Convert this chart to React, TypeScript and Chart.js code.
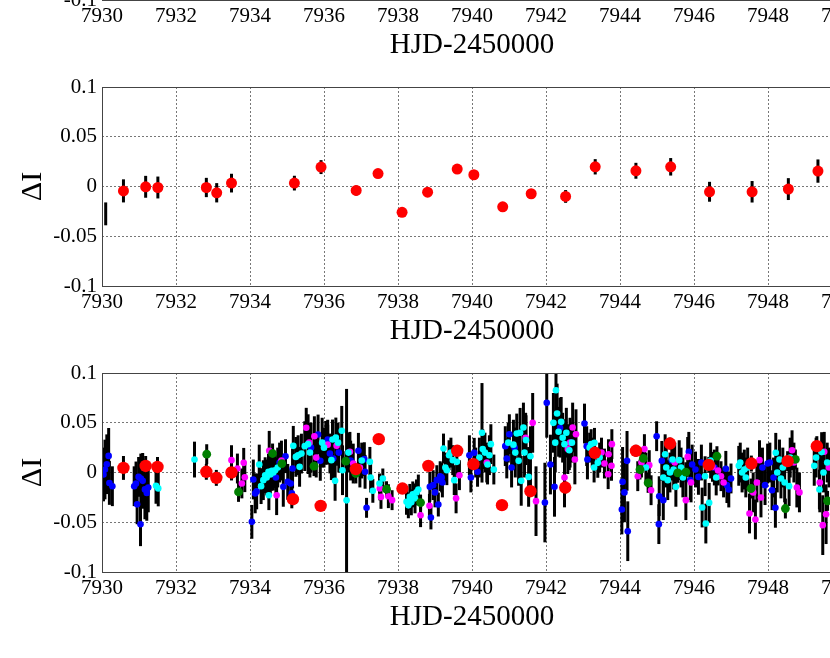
import React, { useEffect, useRef } from 'react';
import { Chart, registerables } from 'chart.js';

Chart.register(...registerables);

// ---- axes ----
const X_MIN = 7930;
const X_MAX = 7950;
const X_STEP = 2;
const Y_MIN = -0.1;
const Y_MAX = 0.1;
const Y_STEP = 0.05;
const X_TITLE = 'HJD-2450000';
const Y_TITLE = 'ΔI';

// each entry: [HJD-2450000, ΔI, error]
type Obs = [number, number, number];

// ---- middle panel ----
const middleRed: Obs[] = [
  [7930.58, -0.0044, 0.0116], [7931.18, -0.0003, 0.011], [7931.51, -0.001, 0.011],
  [7932.82, -0.001, 0.0097], [7933.10, -0.0063, 0.0097], [7933.50, 0.0034, 0.0094],
  [7935.20, 0.0034, 0.0074], [7935.92, 0.0195, 0.007], [7936.87, -0.004, 0.005],
  [7937.46, 0.013, 0.004], [7938.11, -0.026, 0.003], [7938.80, -0.0057, 0.003],
  [7939.60, 0.0175, 0.003], [7940.05, 0.0118, 0.003], [7940.83, -0.0204, 0.003],
  [7941.60, -0.0073, 0.004], [7942.53, -0.010, 0.0064], [7943.33, 0.0198, 0.0077],
  [7944.43, 0.0158, 0.008], [7945.37, 0.0198, 0.0088], [7946.42, -0.0053, 0.010],
  [7947.57, -0.0053, 0.0108], [7948.55, -0.0026, 0.011], [7949.35, 0.0155, 0.0117],
];
const middleBarOnly: Obs[] = [[7930.10, -0.0275, 0.0115]];

// ---- bottom panel ----
const bottomBlue: Obs[] = [
  [7930.04, -0.002, 0.027], [7930.08, 0.003, 0.03], [7930.13, 0.0083, 0.03], [7930.18, 0.0167, 0.028],
  [7930.20, -0.0105, 0.022], [7930.28, -0.0138, 0.02], [7930.87, -0.0138, 0.02], [7930.92, -0.011, 0.022],
  [7930.95, -0.032, 0.02], [7930.99, -0.0044, 0.02], [7931.04, -0.052, 0.022], [7931.05, -0.006, 0.025],
  [7931.10, -0.0084, 0.028], [7931.16, -0.017, 0.03], [7931.21, -0.0205, 0.028], [7931.25, -0.015, 0.025],
  [7934.05, -0.0496, 0.017], [7934.09, -0.007, 0.02], [7934.14, -0.021, 0.02], [7934.18, -0.019, 0.018],
  [7934.70, -0.005, 0.02], [7934.80, 0.01, 0.02],
  [7934.90, -0.0144, 0.02], [7934.96, 0.0164, 0.017], [7935.02, -0.0094, 0.018], [7935.10, -0.011, 0.015],
  [7935.15, 0.004, 0.02], [7935.13, -0.021, 0.015], [7935.65, 0.025, 0.025], [7935.84, 0.0382, 0.02],
  [7935.90, 0.0117, 0.02], [7936.05, 0.0298, 0.022], [7936.10, 0.033, 0.02], [7936.16, 0.0191, 0.02],
  [7936.25, 0.014, 0.02], [7936.40, 0.02, 0.02], [7936.72, 0.012, 0.02], [7936.93, 0.0218, 0.018],
  [7937.09, 0.0134, 0.017], [7937.11, 0.0007, 0.017], [7937.15, -0.0355, 0.01], [7938.86, -0.0144, 0.015],
  [7938.89, -0.0452, 0.012], [7938.95, -0.0127, 0.015], [7939.00, -0.02, 0.015], [7939.05, -0.0077, 0.015],
  [7939.09, -0.0322, 0.012], [7939.14, -0.0037, 0.015], [7939.18, -0.005, 0.015], [7939.20, -0.01, 0.015],
  [7939.93, 0.0174, 0.02], [7939.97, -0.005, 0.015], [7940.06, 0.0198, 0.015], [7940.10, 0.01, 0.015],
  [7940.15, 0.0007, 0.015], [7940.90, 0.0265, 0.02], [7940.94, 0.0141, 0.02], [7941.01, 0.0385, 0.02],
  [7941.07, 0.005, 0.02], [7941.15, 0.025, 0.02], [7941.97, -0.0302, 0.04], [7942.02, 0.07, 0.035],
  [7942.12, 0.008, 0.03], [7942.23, -0.0144, 0.03], [7942.38, 0.045, 0.03], [7943.04, 0.0492, 0.02],
  [7943.10, 0.0265, 0.02], [7943.12, 0.0131, 0.02], [7943.25, 0.02, 0.015], [7944.05, -0.0372, 0.025],
  [7944.07, -0.0094, 0.035], [7944.12, -0.02, 0.03], [7944.19, 0.0117, 0.03], [7944.21, -0.059, 0.03],
  [7944.99, 0.0365, 0.015], [7945.05, -0.0519, 0.02], [7945.06, -0.0238, 0.02], [7945.13, 0.0117, 0.02],
  [7945.17, -0.0278, 0.02], [7945.40, 0.012, 0.02], [7945.86, 0.0208, 0.02], [7945.90, -0.0077, 0.02],
  [7945.95, 0.008, 0.02], [7946.04, 0.003, 0.018], [7946.12, -0.0044, 0.018], [7946.20, 0.01, 0.018],
  [7946.55, 0.005, 0.018], [7946.86, 0.0037, 0.018], [7946.89, -0.0127, 0.018], [7946.94, -0.0171, 0.018],
  [7947.00, -0.006, 0.015], [7947.85, 0.005, 0.02], [7947.92, -0.0127, 0.02], [7947.99, 0.009, 0.02],
  [7948.05, 0.01, 0.02], [7948.11, -0.0178, 0.02], [7948.15, -0.005, 0.02], [7948.20, -0.0355, 0.02],
];
const bottomCyan: Obs[] = [
  [7931.46, -0.0134, 0.018], [7931.52, -0.016, 0.018], [7932.50, 0.013, 0.018], [7934.25, 0.008, 0.02],
  [7934.30, -0.0137, 0.018], [7934.36, -0.0077, 0.02], [7934.41, -0.0027, 0.018], [7934.45, -0.005, 0.018],
  [7934.50, 0.0007, 0.018], [7934.51, -0.0228, 0.015], [7934.55, -0.002, 0.02], [7934.59, 0.0017, 0.02],
  [7934.63, 0.0, 0.018], [7934.68, 0.0023, 0.018], [7934.75, 0.005, 0.02], [7935.17, 0.0268, 0.02],
  [7935.24, 0.0157, 0.02], [7935.30, 0.0174, 0.02], [7935.34, 0.0057, 0.02], [7935.39, 0.019, 0.02],
  [7935.48, 0.0265, 0.025], [7935.57, 0.0285, 0.03], [7935.62, 0.02, 0.025], [7935.95, 0.03, 0.025],
  [7936.00, 0.025, 0.02], [7936.20, 0.0124, 0.02], [7936.23, 0.0332, 0.02], [7936.30, -0.0084, 0.02],
  [7936.32, 0.0352, 0.02], [7936.38, 0.03, 0.02], [7936.48, 0.0419, 0.025], [7936.50, 0.0023, 0.025],
  [7936.61, -0.028, 0.112], [7936.66, 0.02, 0.02], [7937.02, 0.012, 0.018], [7937.24, 0.0107, 0.015],
  [7937.26, -0.005, 0.015], [7937.32, -0.0184, 0.012], [7937.50, -0.011, 0.01], [7937.59, -0.006, 0.01],
  [7938.23, -0.0295, 0.013], [7938.28, -0.033, 0.013], [7938.32, -0.0245, 0.013], [7938.36, -0.03, 0.013],
  [7938.40, -0.022, 0.013], [7938.46, -0.026, 0.015], [7938.50, -0.02, 0.013], [7938.55, -0.0171, 0.015],
  [7939.23, 0.0241, 0.015], [7939.28, 0.005, 0.015], [7939.32, 0.0023, 0.015], [7939.38, 0.0174, 0.015],
  [7939.43, 0.02, 0.015], [7939.48, 0.0124, 0.015], [7939.52, -0.0077, 0.015], [7939.59, 0.0107, 0.015],
  [7940.20, 0.015, 0.02], [7940.27, 0.0399, 0.05], [7940.29, 0.0235, 0.02], [7940.35, 0.02, 0.02],
  [7940.42, 0.008, 0.02], [7940.47, 0.0174, 0.02], [7940.51, 0.0285, 0.02], [7940.59, 0.003, 0.015],
  [7940.98, 0.03, 0.02], [7941.12, 0.028, 0.025], [7941.17, 0.02, 0.025], [7941.21, 0.0392, 0.02],
  [7941.26, 0.0117, 0.025], [7941.30, 0.0399, 0.025], [7941.33, -0.0084, 0.025], [7941.39, 0.0452, 0.025],
  [7941.42, 0.02, 0.025], [7941.46, 0.0325, 0.025], [7941.53, -0.0044, 0.03], [7941.58, 0.0164, 0.03],
  [7942.20, 0.0499, 0.03], [7942.25, 0.03, 0.03], [7942.27, 0.0827, 0.03], [7942.30, 0.0593, 0.03],
  [7942.34, 0.0409, 0.025], [7942.41, 0.0509, 0.025], [7942.45, 0.035, 0.025], [7942.50, 0.0285, 0.025],
  [7942.55, 0.04, 0.025], [7942.63, 0.0224, 0.02], [7942.70, 0.03, 0.02], [7943.18, 0.025, 0.015],
  [7943.22, 0.0285, 0.015], [7943.30, 0.005, 0.015], [7943.31, 0.0298, 0.015], [7943.40, 0.0097, 0.015],
  [7943.45, 0.015, 0.015], [7944.70, 0.005, 0.015], [7945.17, -0.005, 0.02], [7945.22, 0.0184, 0.02],
  [7945.25, 0.005, 0.02], [7945.29, -0.0077, 0.02], [7945.35, 0.0, 0.02], [7945.42, 0.0131, 0.02],
  [7945.45, 0.003, 0.02], [7945.51, -0.0144, 0.02], [7945.60, 0.0124, 0.02], [7945.65, 0.005, 0.02],
  [7945.70, -0.005, 0.02], [7946.22, -0.0352, 0.02], [7946.30, -0.0037, 0.02], [7946.32, -0.0513, 0.02],
  [7946.41, -0.0305, 0.02], [7946.45, 0.012, 0.018], [7946.60, -0.005, 0.018], [7947.21, 0.0067, 0.02],
  [7947.25, 0.01, 0.02], [7947.30, 0.0, 0.02], [7947.36, 0.003, 0.02], [7947.40, -0.005, 0.02],
  [7947.45, 0.005, 0.02], [7948.21, 0.0198, 0.02], [7948.25, 0.0, 0.02], [7948.31, 0.0131, 0.02],
  [7948.35, -0.006, 0.02], [7948.40, 0.005, 0.02], [7948.45, -0.01, 0.02], [7948.57, -0.0137, 0.02],
  [7948.60, 0.015, 0.02], [7949.25, 0.0067, 0.02], [7949.30, 0.015, 0.02], [7949.39, -0.0171, 0.02],
  [7949.45, 0.0205, 0.02], [7949.50, 0.0, 0.02], [7949.60, 0.01, 0.02],
];
const bottomMagenta: Obs[] = [
  [7933.50, 0.0124, 0.015], [7933.66, 0.004, 0.015], [7933.78, -0.011, 0.015], [7933.83, 0.0097, 0.015],
  [7933.86, -0.0047, 0.015], [7934.52, 0.0218, 0.02], [7934.72, -0.0228, 0.02], [7934.85, 0.012, 0.02],
  [7935.52, 0.045, 0.02], [7935.60, 0.03, 0.02], [7935.74, 0.0365, 0.02], [7935.79, 0.015, 0.02],
  [7936.10, 0.028, 0.02], [7936.34, 0.0268, 0.02], [7936.70, 0.0208, 0.02], [7936.79, 0.009, 0.02],
  [7936.97, 0.005, 0.02], [7937.51, -0.016, 0.012], [7937.54, -0.0245, 0.012], [7937.74, -0.0238, 0.012],
  [7937.84, -0.0278, 0.01], [7938.61, -0.0429, 0.012], [7938.85, -0.0335, 0.012], [7939.57, -0.026, 0.015],
  [7939.66, -0.0027, 0.015], [7940.40, 0.01, 0.02], [7941.45, 0.035, 0.025], [7941.64, 0.0499, 0.03],
  [7941.73, -0.0288, 0.035], [7942.50, -0.005, 0.03], [7942.59, 0.0235, 0.025], [7942.65, 0.03, 0.025],
  [7942.72, 0.0452, 0.025], [7942.78, 0.0131, 0.025], [7942.81, 0.0385, 0.025], [7943.50, 0.02, 0.015],
  [7943.58, 0.009, 0.015], [7943.68, -0.0017, 0.015], [7943.69, 0.0184, 0.015], [7943.77, 0.0067, 0.015],
  [7943.78, 0.0285, 0.015], [7944.48, -0.0037, 0.015], [7944.58, 0.01, 0.015], [7944.66, 0.0235, 0.015],
  [7944.79, 0.0074, 0.015], [7944.84, -0.0178, 0.015], [7945.48, 0.01, 0.02], [7945.78, -0.0278, 0.02],
  [7945.83, 0.0157, 0.02], [7945.92, -0.01, 0.02], [7946.50, 0.0057, 0.015], [7946.65, 0.002, 0.015],
  [7946.73, -0.0037, 0.015], [7946.80, -0.01, 0.015], [7947.50, -0.0412, 0.02], [7947.60, -0.02, 0.02],
  [7947.66, -0.0472, 0.02], [7947.70, -0.01, 0.02], [7947.77, 0.0124, 0.02], [7947.81, -0.0251, 0.02],
  [7948.65, 0.0224, 0.02], [7948.70, 0.01, 0.02], [7948.78, -0.0151, 0.02], [7948.85, -0.02, 0.02],
  [7949.40, -0.01, 0.03], [7949.48, -0.0529, 0.03], [7949.52, 0.0208, 0.02], [7949.57, -0.0419, 0.03],
  [7949.65, 0.005, 0.02],
];
const bottomGreen: Obs[] = [
  [7932.83, 0.0184, 0.01], [7933.69, -0.0195, 0.01], [7934.61, 0.0191, 0.01], [7934.86, 0.009, 0.01],
  [7935.73, 0.0064, 0.01], [7936.59, 0.0114, 0.01], [7936.86, -0.001, 0.01], [7937.69, -0.0168, 0.008],
  [7938.61, -0.0302, 0.008], [7944.54, 0.003, 0.01], [7944.63, 0.0141, 0.01], [7944.76, -0.0104, 0.01],
  [7945.56, -0.0003, 0.01], [7945.78, 0.0003, 0.01], [7946.62, 0.0164, 0.01], [7947.54, -0.0161, 0.01],
  [7948.47, -0.0362, 0.01], [7948.74, 0.0131, 0.01], [7949.61, -0.0285, 0.01],
];
const bottomRed: Obs[] = [
  [7930.58, 0.0046, 0.012], [7931.18, 0.0066, 0.01], [7931.50, 0.0056, 0.01], [7932.82, 0.0007, 0.008],
  [7933.09, -0.0054, 0.008], [7933.50, 0.0, 0.008], [7935.16, -0.0268, 0.006], [7935.91, -0.0335, 0.005],
  [7936.86, 0.0034, 0.005], [7937.48, 0.0335, 0.004], [7938.12, -0.0161, 0.004], [7938.82, 0.0067, 0.004],
  [7939.60, 0.0218, 0.004], [7940.04, 0.0084, 0.004], [7940.81, -0.0328, 0.004], [7941.58, -0.0188, 0.005],
  [7942.52, -0.0151, 0.006], [7943.32, 0.0198, 0.006], [7944.43, 0.0218, 0.006], [7945.35, 0.0291, 0.006],
  [7946.40, 0.0077, 0.008], [7947.55, 0.009, 0.008], [7948.53, 0.0114, 0.01], [7949.32, 0.0265, 0.01],
];

const FONT = '"Liberation Serif", "Times New Roman", serif';

const errorBarPlugin = {
  id: 'errorBars',
  beforeDatasetsDraw(chart: any) {
    const { ctx, chartArea, scales } = chart;
    const xs = scales.x;
    const ys = scales.y;
    ctx.save();
    ctx.beginPath();
    ctx.rect(chartArea.left, chartArea.top, chartArea.right - chartArea.left, chartArea.bottom - chartArea.top);
    ctx.clip();
    ctx.strokeStyle = '#000';
    ctx.lineCap = 'butt';
    chart.data.datasets.forEach((ds: any) => {
      if (!ds.errors) return;
      ctx.lineWidth = ds.errWidth || 2;
      ds.data.forEach((p: any, j: number) => {
        const e = ds.errors[j];
        const px = xs.getPixelForValue(p.x);
        ctx.beginPath();
        ctx.moveTo(px, ys.getPixelForValue(p.y - e));
        ctx.lineTo(px, ys.getPixelForValue(p.y + e));
        ctx.stroke();
      });
    });
    ctx.restore();
  },
  afterDraw(chart: any) {
    const { ctx, chartArea } = chart;
    ctx.save();
    ctx.strokeStyle = '#444';
    ctx.lineWidth = 1;
    ctx.setLineDash([]);
    const l = Math.floor(chartArea.left) + 0.5;
    const t = Math.floor(chartArea.top) + 0.5;
    const r = Math.floor(chartArea.right) + 0.5;
    const b = Math.floor(chartArea.bottom) + 0.5;
    ctx.strokeRect(l, t, r - l, b - t);
    ctx.restore();
  },
};

function makeDataset(label: string, arr: Obs[], color: string, radius: number, order: number, errWidth: number) {
  return {
    label,
    data: arr.map(([x, y]) => ({ x, y })),
    errors: arr.map((o) => o[2]),
    errWidth,
    backgroundColor: color,
    borderWidth: 0,
    pointRadius: radius,
    pointHoverRadius: radius,
    order,
    clip: 0,
  };
}

const W = 900;
const H = 286;

function Panel({ top, datasets }: { top: number; datasets: any[] }) {
  const ref = useRef<HTMLCanvasElement>(null);
  useEffect(() => {
    if (!ref.current) return;
    const chart = new Chart(ref.current, {
      type: 'scatter',
      data: { datasets },
      plugins: [errorBarPlugin],
      options: {
        animation: false,
        responsive: false,
        devicePixelRatio: 1,
        layout: { padding: { left: 0, top: 20, right: W - 842, bottom: 0 } },
        plugins: { legend: { display: false }, tooltip: { enabled: false } },
        scales: {
          x: {
            type: 'linear',
            min: X_MIN,
            max: X_MAX,
            afterFit: (s: any) => { s.height = 67; },
            ticks: {
              stepSize: X_STEP,
              autoSkip: false,
              maxRotation: 0,
              padding: 4,
              color: '#000',
              font: { family: FONT, size: 21 },
              callback: (v: any) => String(Math.round(Number(v))),
            },
            grid: { color: '#777', lineWidth: 1, drawTicks: false },
            border: { display: false, dash: [2, 2] },
            title: {
              display: true,
              text: X_TITLE,
              color: '#000',
              font: { family: FONT, size: 29 },
              padding: { top: 0, bottom: 4 },
            },
          },
          y: {
            type: 'linear',
            min: Y_MIN,
            max: Y_MAX,
            afterFit: (s: any) => { s.width = 102; },
            ticks: {
              stepSize: Y_STEP,
              padding: 5,
              color: '#000',
              font: { family: FONT, size: 21 },
              callback: (v: any) => String(Math.round(Number(v) * 100) / 100),
            },
            grid: { color: '#777', lineWidth: 1, drawTicks: false },
            border: { display: false, dash: [2, 2] },
            title: {
              display: true,
              text: Y_TITLE,
              color: '#000',
              font: { family: FONT, size: 30 },
              padding: { top: 15, bottom: 0 },
            },
          },
        },
      } as any,
    });
    return () => chart.destroy();
  }, []);
  return (
    <canvas
      ref={ref}
      width={W}
      height={H}
      style={{ position: 'absolute', left: 0, top, width: W, height: H, display: 'block' }}
    />
  );
}

export default function App() {
  const middleSets = [
    makeDataset('red', middleRed, '#ff0000', 5.5, 0, 3),
    makeDataset('bar', middleBarOnly, '#ff0000', 0, 1, 3),
  ];
  const bottomSets = [
    makeDataset('red', bottomRed, '#ff0000', 6.2, 0, 3),
    makeDataset('green', bottomGreen, '#007f00', 4.4, 1, 3),
    makeDataset('cyan', bottomCyan, '#00ffff', 3.3, 2, 3),
    makeDataset('magenta', bottomMagenta, '#ff00ff', 3.3, 3, 3),
    makeDataset('blue', bottomBlue, '#0000ff', 3.3, 4, 3),
  ];
  return (
    <div style={{ position: 'fixed', left: 0, top: 0, width: 830, height: 658, overflow: 'hidden', background: '#fff' }}>
      <Panel top={-219} datasets={[]} />
      <Panel top={67} datasets={middleSets} />
      <Panel top={353} datasets={bottomSets} />
    </div>
  );
}
